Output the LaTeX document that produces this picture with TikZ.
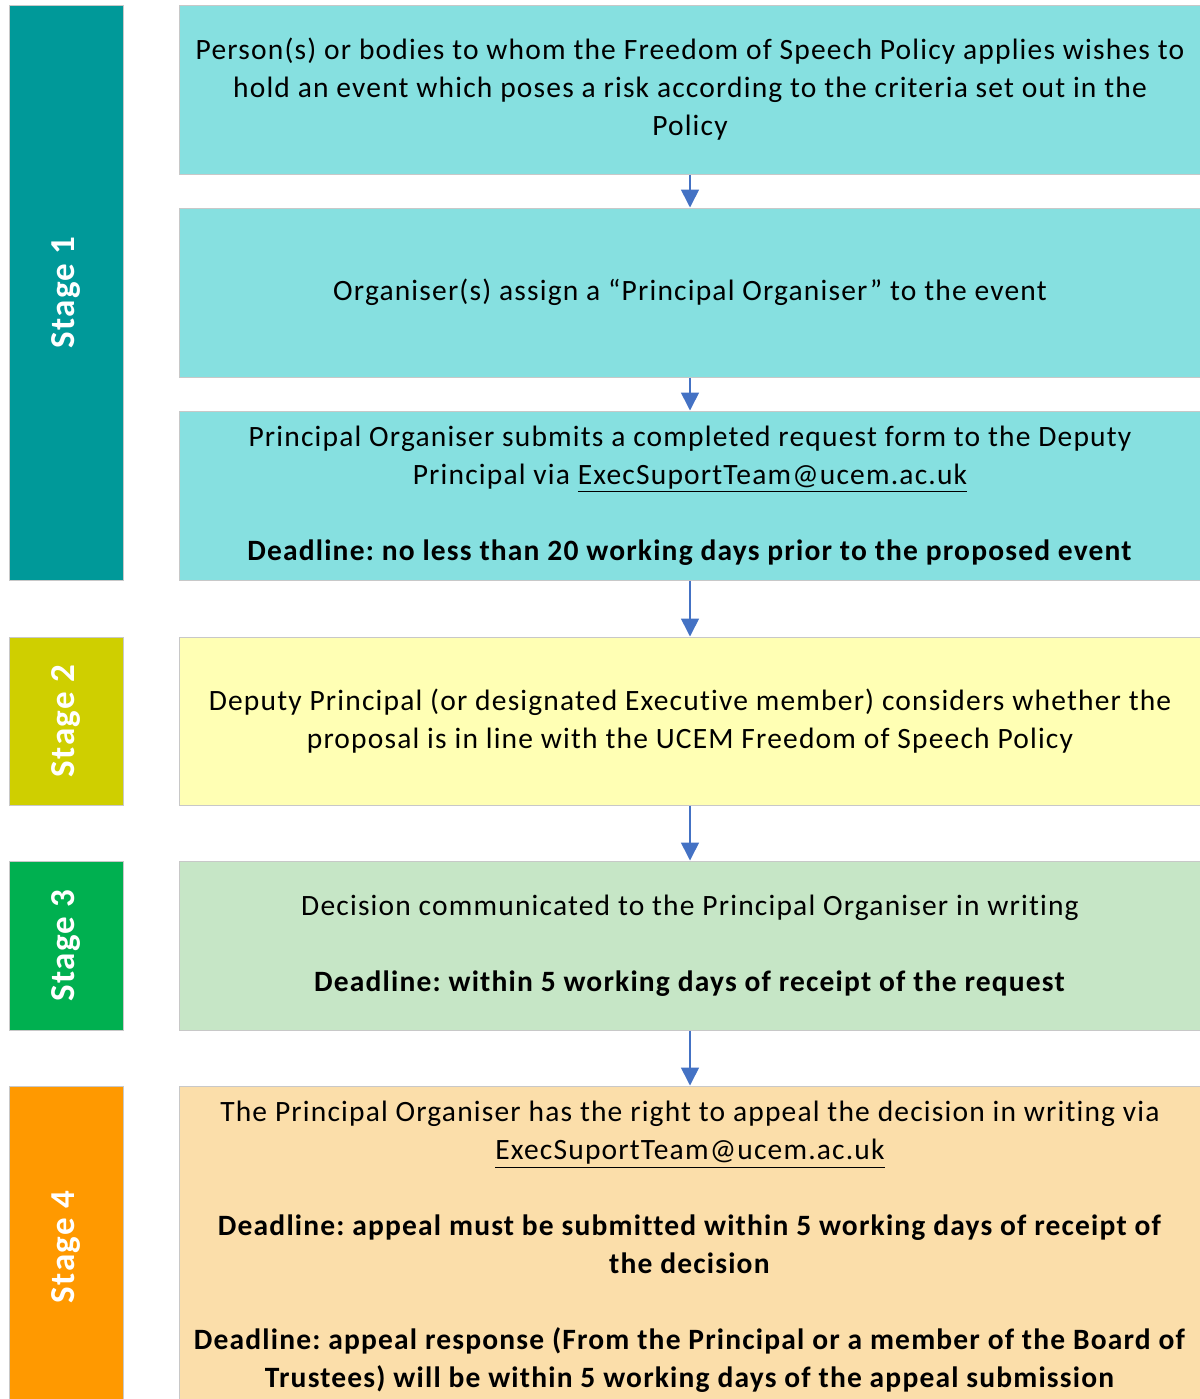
\documentclass[tikz,border=0pt]{standalone}
\usepackage{fontspec}
\setmainfont{Carlito}[LetterSpace=4, Ligatures=NoCommon]
\frenchspacing
\usetikzlibrary{positioning, arrows.meta}
\definecolor{tealdark}{HTML}{009999}
\definecolor{teallight}{HTML}{86E0E0}
\definecolor{olivedark}{HTML}{CFCF00}
\definecolor{yellowlight}{HTML}{FFFFB4}
\definecolor{greendark}{HTML}{00B050}
\definecolor{greenlight}{HTML}{C6E6C6}
\definecolor{orangedark}{HTML}{FF9900}
\definecolor{orangelight}{HTML}{FBDEAA}
\definecolor{arrowblue}{HTML}{4472C4}
\definecolor{edgegray}{HTML}{C8C8C8}
\tikzset{
    stage box/.style = {draw=edgegray, line width=0.5pt, minimum height=57pt, inner sep=0pt,
        text=white, font=\fontsize{17.5}{20}\selectfont\bfseries, rotate=90},
    info box/.style = {draw=edgegray, line width=0.5pt, minimum width=511pt, inner sep=0pt,
        align=center, font=\fontsize{14.75}{19}\selectfont},
    flow/.style = {draw=arrowblue, line width=0.8pt, -{Triangle[width=9pt,length=9pt]}},
}

\begin{document}
\begin{tikzpicture}[x=0.5pt, y=-0.5pt]
				\useasboundingbox (0, 0) rectangle (1200, 1399);

				\node[stage box, fill=tealdark, minimum width=287.5pt] (S1) at (66, 292.5) {Stage 1};
				\node[stage box, fill=olivedark, minimum width=84pt] (S2) at (66, 721) {Stage 2};
				\node[stage box, fill=greendark, minimum width=84.5pt] (S3) at (66, 945.5) {Stage 3};
				\node[stage box, fill=orangedark, minimum width=161pt] (S4) at (66, 1247) {Stage 4};

				\node[info box, fill=teallight, minimum height=84.5pt] (Req) at (690, 89.5)
					{Person(s) or bodies to whom the Freedom of Speech Policy applies wishes to\\
					 hold an event which poses a risk according to the criteria set out in the\\
					 Policy};
				\node[info box, fill=teallight, minimum height=84.5pt] (Assign) at (690, 292.5)
					{Organiser(s) assign a “Principal Organiser” to the event};
				\node[info box, fill=teallight, minimum height=84.5pt] (Submit) at (690, 495.5)
					{Principal Organiser submits a completed request form to the Deputy\\
					 Principal via \underline{ExecSuportTeam@ucem.ac.uk}\\[19pt]
					 \textbf{Deadline: no less than 20 working days prior to the proposed event}};
				\node[info box, fill=yellowlight, minimum height=84pt] (Consider) at (690, 721)
					{Deputy Principal (or designated Executive member) considers whether the\\
					 proposal is in line with the UCEM Freedom of Speech Policy};
				\node[info box, fill=greenlight, minimum height=84.5pt] (Decide) at (690, 945.5)
					{Decision communicated to the Principal Organiser in writing\\[19pt]
					 \textbf{Deadline: within 5 working days of receipt of the request}};
				\node[info box, fill=orangelight, minimum height=161pt] (Appeal) at (690, 1247)
					{The Principal Organiser has the right to appeal the decision in writing via\\
					 \underline{ExecSuportTeam@ucem.ac.uk}\\[19pt]
					 \textbf{Deadline: appeal must be submitted within 5 working days of receipt of}\\
					 \textbf{the decision}\\[19pt]
					 \textbf{Deadline: appeal response (From the Principal or a member of the Board of}\\
					 \textbf{Trustees) will be within 5 working days of the appeal submission}};

				\draw[flow] (Req) -- (Assign);
				\draw[flow] (Assign) -- (Submit);
				\draw[flow] (Submit) -- (Consider);
				\draw[flow] (Consider) -- (Decide);
				\draw[flow] (Decide) -- (Appeal);
			\end{tikzpicture}
\end{document}
